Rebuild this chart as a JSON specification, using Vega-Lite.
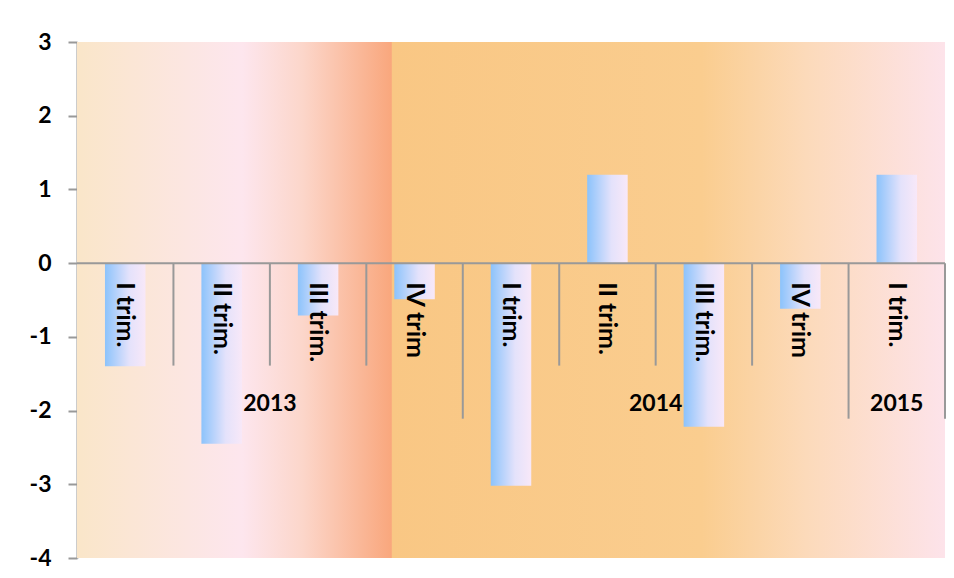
{
  "$schema": "https://vega.github.io/schema/vega-lite/v6.json",
  "width": 868,
  "height": 516,
  "autosize": {"type": "none"},
  "padding": {"left": 77, "top": 42, "right": 9, "bottom": 20},
  "background": "white",
  "config": {"view": {"stroke": null}, "font": "Lato"},
  "data": {
    "values": [
      {"key": "2013-I", "year": "2013", "quarter": "I trim.", "value": -1.4},
      {"key": "2013-II", "year": "2013", "quarter": "II trim.", "value": -2.45},
      {"key": "2013-III", "year": "2013", "quarter": "III trim.", "value": -0.71},
      {"key": "2013-IV", "year": "2013", "quarter": "IV trim", "value": -0.49},
      {"key": "2014-I", "year": "2014", "quarter": "I trim.", "value": -3.02},
      {"key": "2014-II", "year": "2014", "quarter": "II trim.", "value": 1.2},
      {"key": "2014-III", "year": "2014", "quarter": "III trim.", "value": -2.22},
      {"key": "2014-IV", "year": "2014", "quarter": "IV trim", "value": -0.62},
      {"key": "2015-I", "year": "2015", "quarter": "I trim.", "value": 1.2}
    ]
  },
  "layer": [
    {
      "data": {"values": [{}]},
      "mark": {
        "type": "rect",
        "fill": {
          "gradient": "linear", "x1": 0, "x2": 1, "y1": 0, "y2": 0,
          "stops": [
            {"offset": 0, "color": "#FAE6C9"},
            {"offset": 0.19, "color": "#FDE6EE"},
            {"offset": 0.26, "color": "#FCD6CA"},
            {"offset": 0.362, "color": "#F9A77D"},
            {"offset": 0.3635, "color": "#F9C784"},
            {"offset": 0.72, "color": "#FACD8F"},
            {"offset": 0.84, "color": "#FCDABA"},
            {"offset": 1, "color": "#FDE3EA"}
          ]
        }
      },
      "encoding": {}
    },
    {
      "mark": {
        "type": "bar",
        "width": {"band": 0.42},
        "fill": {
          "gradient": "linear", "x1": 0, "x2": 1, "y1": 0, "y2": 0,
          "stops": [
            {"offset": 0, "color": "#8CC3FB"},
            {"offset": 0.6, "color": "#E4E2FB"},
            {"offset": 1, "color": "#F8E8F8"}
          ]
        }
      },
      "encoding": {
        "x": {"field": "key", "type": "nominal", "sort": null, "axis": null,
              "scale": {"paddingInner": 0, "paddingOuter": 0}},
        "y": {"field": "value", "type": "quantitative",
              "scale": {"domain": [-4, 3], "nice": false},
              "axis": {
                "values": [-4, -3, -2, -1, 0, 1, 2, 3],
                "labelExpr": "datum.value < 0 ? '-' + abs(datum.value) : '' + datum.value",
                "title": null, "grid": false,
                "domainColor": "#999999", "domainWidth": 2,
                "tickColor": "#999999", "tickWidth": 2, "tickSize": 9,
                "labelPadding": 17, "labelFontSize": 23, "labelFontWeight": "bold",
                "labelColor": "black", "labelFont": "Lato"
              }},
        "y2": {"datum": 0}
      }
    },
    {
      "transform": [{"filter": "datum.quarter != 'I trim.'"}],
      "mark": {"type": "rule", "color": "#999999", "strokeWidth": 2},
      "encoding": {
        "x": {"field": "key", "type": "nominal", "sort": null, "bandPosition": 0},
        "y": {"datum": 0},
        "y2": {"datum": -1.39}
      }
    },
    {
      "transform": [{"filter": "datum.quarter == 'I trim.' && datum.year != '2013'"}],
      "mark": {"type": "rule", "color": "#999999", "strokeWidth": 2},
      "encoding": {
        "x": {"field": "key", "type": "nominal", "sort": null, "bandPosition": 0},
        "y": {"datum": 0},
        "y2": {"datum": -2.11}
      }
    },
    {
      "transform": [{"filter": "datum.year == '2015'"}],
      "mark": {"type": "rule", "color": "#999999", "strokeWidth": 2},
      "encoding": {
        "x": {"field": "key", "type": "nominal", "sort": null, "bandPosition": 1},
        "y": {"datum": 0},
        "y2": {"datum": -2.11}
      }
    },
    {
      "data": {"values": [{}]},
      "mark": {"type": "rule", "color": "#999999", "strokeWidth": 2},
      "encoding": {"y": {"datum": 0}}
    },
    {
      "mark": {"type": "text", "angle": 90, "align": "left", "baseline": "middle",
               "yOffset": 19, "fontSize": 25, "fontWeight": "bold", "color": "black", "font": "Lato"},
      "encoding": {
        "x": {"field": "key", "type": "nominal", "sort": null},
        "y": {"datum": 0},
        "text": {"field": "quarter"}
      }
    },
    {
      "transform": [{"filter": "(datum.year != '2015' && datum.quarter == 'III trim.')"}],
      "mark": {"type": "text", "align": "center", "baseline": "middle",
               "fontSize": 23, "fontWeight": "bold", "color": "black", "font": "Lato"},
      "encoding": {
        "x": {"field": "key", "type": "nominal", "sort": null, "bandPosition": 0},
        "y": {"datum": -1.91},
        "text": {"field": "year"}
      }
    },
    {
      "transform": [{"filter": "datum.year == '2015'"}],
      "mark": {"type": "text", "align": "center", "baseline": "middle",
               "fontSize": 23, "fontWeight": "bold", "color": "black", "font": "Lato"},
      "encoding": {
        "x": {"field": "key", "type": "nominal", "sort": null},
        "y": {"datum": -1.91},
        "text": {"field": "year"}
      }
    }
  ]
}
